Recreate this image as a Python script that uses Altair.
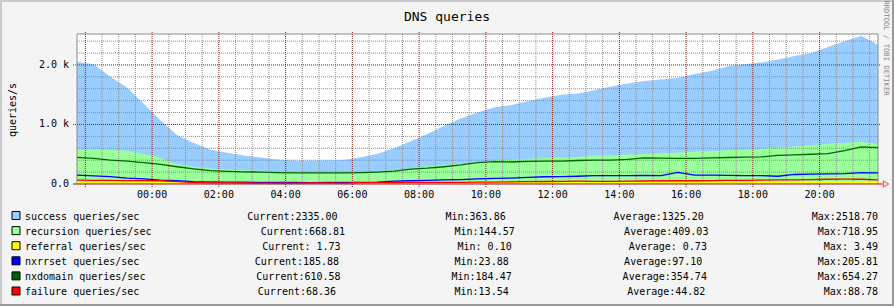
import altair as alt
import pandas as pd

# ---------------- data ----------------
START_H = -2.25   # 21:45 of the previous day, in hours from midnight
STEP_H = 0.5      # 30-minute samples

success = [2055, 2010, 1800, 1620, 1350, 1070, 820, 690, 580, 525,
           480, 445, 410, 395, 395, 400, 405, 450, 510, 600,
           720, 840, 980, 1100, 1200, 1290, 1325, 1390, 1450, 1500,
           1520, 1575, 1640, 1690, 1730, 1755, 1780, 1850, 1900, 1980,
           2010, 2040, 2090, 2150, 2200, 2300, 2400, 2490, 2340]
recursion = [583, 580, 575, 560, 510, 440, 330, 290, 262, 245,
             232, 222, 212, 200, 195, 195, 195, 200, 212, 235,
             265, 300, 325, 345, 370, 395, 410, 425, 435, 445,
             455, 480, 485, 495, 505, 515, 530, 545, 555, 565,
             575, 590, 610, 630, 650, 670, 690, 710, 670]
referral = [1.2, 1.1, 1.0, 0.9, 0.8, 0.7, 0.5, 0.4, 0.3, 0.2,
            0.2, 0.1, 0.1, 0.1, 0.2, 0.2, 0.3, 0.4, 0.5, 0.6,
            0.7, 0.8, 0.8, 0.9, 0.9, 1.0, 1.0, 1.1, 1.1, 1.2,
            1.2, 1.3, 1.3, 1.4, 1.4, 1.5, 1.5, 1.6, 1.6, 1.7,
            1.7, 1.8, 1.9, 2.0, 2.1, 2.3, 2.5, 1.9, 1.7]
nxrrset = [150, 135, 125, 100, 85, 65, 55, 40, 35, 32,
           30, 28, 26, 25, 24, 25, 26, 28, 30, 48,
           55, 62, 68, 75, 85, 95, 98, 110, 122, 125,
           130, 140, 142, 140, 145, 140, 195, 150, 150, 145,
           140, 140, 130, 160, 165, 170, 175, 190, 186]
nxdomain = [448, 430, 400, 385, 360, 330, 290, 255, 225, 212,
            205, 200, 192, 186, 186, 186, 186, 190, 200, 215,
            250, 265, 290, 320, 360, 375, 370, 380, 385, 385,
            395, 400, 400, 415, 440, 435, 430, 430, 440, 445,
            450, 455, 480, 490, 500, 510, 560, 625, 610]
failure = [65, 62, 60, 58, 56, 55, 40, 25, 20, 18,
           17, 15, 14, 16, 20, 18, 15, 22, 24, 25,
           26, 26, 28, 28, 30, 32, 35, 40, 42, 45,
           48, 45, 45, 48, 50, 55, 55, 55, 58, 60,
           62, 65, 68, 70, 72, 80, 82, 80, 68]

names = ["success queries/sec", "recursion queries/sec", "referral queries/sec",
         "nxrrset queries/sec", "nxdomain queries/sec", "failure queries/sec"]
current = [2335.00, 668.81, 1.73, 185.88, 610.58, 68.36]
minimum = [363.86, 144.57, 0.10, 23.88, 184.47, 13.54]
average = [1325.20, 409.03, 0.73, 97.10, 354.74, 44.82]
maximum = [2518.70, 718.95, 3.49, 205.81, 654.27, 88.78]
colors = ["#99CCFF", "#99FF99", "#FFFF00", "#0000FF", "#006600", "#FF0000"]

x_label_hours = [0, 2, 4, 6, 8, 10, 12, 14, 16, 18, 20]
x_label_text = ["00:00", "02:00", "04:00", "06:00", "08:00", "10:00",
                "12:00", "14:00", "16:00", "18:00", "20:00"]
y_label_values = [0, 1000, 2000]
y_label_text = ["0.0", "1.0 k", "2.0 k"]

# ---------------- layout ----------------
W, H = 801, 150
PAD_L, PAD_T = 77, 34
TOTAL_W, TOTAL_H = 894, 306
XDOM = [-2.25, 21.75]
YDOM = [0, 2520]
FONT = "DejaVu Sans Mono"
MINOR = "#8C8C8C"
MAJOR = "#821E1E"
INTERP = "linear"

hours = [START_H + STEP_H * i for i in range(len(success))]
df = pd.DataFrame(dict(h=hours, success=success, recursion=recursion,
                       referral=referral, nxrrset=nxrrset,
                       nxdomain=nxdomain, failure=failure))

xs = alt.Scale(domain=XDOM, nice=False, zero=False)
ys = alt.Scale(domain=YDOM, nice=False, zero=True)

base = alt.Chart(df)
X = alt.X("h:Q", scale=xs, axis=None)

a_success = base.mark_area(interpolate=INTERP, color=colors[0]).encode(
    x=X, y=alt.Y("success:Q", scale=ys, axis=None))
a_recursion = base.mark_area(interpolate=INTERP, color=colors[1]).encode(
    x=X, y=alt.Y("recursion:Q", scale=ys, axis=None))

# grid
minor_x = [k / 2 for k in range(-3, 44) if k % 4 != 0]
major_x = list(range(-2, 21, 2))
minor_y = [v for v in range(200, 2520, 200) if v % 1000 != 0]
major_y = [1000, 2000]

g_vminor = alt.Chart(pd.DataFrame({"gx": minor_x})).mark_rule(
    color=MINOR, strokeDash=[1, 1], strokeWidth=1).encode(
    x=alt.X("gx:Q", scale=xs, axis=None), y=alt.value(0), y2=alt.value(H))
g_hminor = alt.Chart(pd.DataFrame({"gy": minor_y})).mark_rule(
    color=MINOR, strokeDash=[1, 1], strokeWidth=1).encode(
    y=alt.Y("gy:Q", scale=ys, axis=None), x=alt.value(0), x2=alt.value(W))
g_vmajor = alt.Chart(pd.DataFrame({"gx": major_x})).mark_rule(
    color=MAJOR, strokeDash=[1, 1], strokeWidth=1).encode(
    x=alt.X("gx:Q", scale=xs, axis=None), y=alt.value(-2), y2=alt.value(H + 3))
g_hmajor = alt.Chart(pd.DataFrame({"gy": major_y})).mark_rule(
    color=MAJOR, strokeDash=[1, 1], strokeWidth=1).encode(
    y=alt.Y("gy:Q", scale=ys, axis=None), x=alt.value(-4), x2=alt.value(W + 3))

one = alt.Chart(pd.DataFrame({"a": [0]}))
frame_top = one.mark_rule(color="#8C8C8C").encode(x=alt.value(0), x2=alt.value(W), y=alt.value(0))
frame_left = one.mark_rule(color="#8C8C8C").encode(x=alt.value(0), y=alt.value(0), y2=alt.value(H))
frame_right = one.mark_rule(color="#8C8C8C").encode(x=alt.value(W), y=alt.value(0), y2=alt.value(H))

# lines
l_referral = base.mark_line(interpolate=INTERP, color=colors[2], strokeWidth=2, yOffset=-1.5).encode(
    x=X, y=alt.Y("referral:Q", scale=ys, axis=None))
l_nxrrset = base.mark_line(interpolate=INTERP, color=colors[3], strokeWidth=1.3).encode(
    x=X, y=alt.Y("nxrrset:Q", scale=ys, axis=None))
l_nxdomain = base.mark_line(interpolate=INTERP, color=colors[4], strokeWidth=1.3).encode(
    x=X, y=alt.Y("nxdomain:Q", scale=ys, axis=None))
l_failure = base.mark_line(interpolate=INTERP, color=colors[5], strokeWidth=1.3).encode(
    x=X, y=alt.Y("failure:Q", scale=ys, axis=None))

axis_line = one.mark_rule(color=MAJOR, strokeWidth=1).encode(
    x=alt.value(-4), x2=alt.value(W), y=alt.value(H))
arrow_line = one.mark_rule(color="#FF0000", strokeWidth=1).encode(
    x=alt.value(W), x2=alt.value(W + 5), y=alt.value(H))
arrow_head = one.mark_point(shape="triangle-right", size=40, filled=False,
                            color="#FF0000", strokeWidth=1).encode(
    x=alt.value(W + 8), y=alt.value(H))

# axis labels (placed through the scales)
x_lab = alt.Chart(pd.DataFrame({"h": x_label_hours, "t": x_label_text})).mark_text(
    font=FONT, fontSize=10, color="black", align="center", baseline="middle").encode(
    x=alt.X("h:Q", scale=xs, axis=None), y=alt.value(H + 11), text="t:N")
y_lab = alt.Chart(pd.DataFrame({"v": y_label_values, "t": y_label_text})).mark_text(
    font=FONT, fontSize=10, color="black", align="right", baseline="middle").encode(
    y=alt.Y("v:Q", scale=ys, axis=None), x=alt.value(-8), text="t:N")

# image border (3D frame)
def rect(x1, x2, y1, y2, c):
    return one.mark_rect(color=c).encode(
        x=alt.value(x1 - PAD_L), x2=alt.value(x2 - PAD_L),
        y=alt.value(y1 - PAD_T), y2=alt.value(y2 - PAD_T))

border = [rect(0, TOTAL_W, 0, 2, "#CBCBCB"), rect(0, 2, 0, TOTAL_H, "#CBCBCB"),
          rect(0, TOTAL_W, TOTAL_H - 2, TOTAL_H, "#999999"),
          rect(TOTAL_W - 2, TOTAL_W, 0, TOTAL_H, "#999999")]

# texts
title = one.mark_text(text="DNS queries", font=FONT, fontSize=13, color="black",
                      align="center", baseline="middle").encode(
    x=alt.value(447 - PAD_L), y=alt.value(17 - PAD_T))
ylabel = one.mark_text(text="queries/s", font=FONT, fontSize=10, color="black",
                       align="center", baseline="middle", angle=270).encode(
    x=alt.value(13 - PAD_L), y=alt.value(110 - PAD_T))
watermark = one.mark_text(text="RRDTOOL / TOBI OETIKER", font=FONT, fontSize=7.2,
                          color="#8A8A8A", align="center", baseline="middle",
                          angle=90).encode(
    x=alt.value(886 - PAD_L), y=alt.value(48 - PAD_T))

# legend (justified rows like rrdtool's \j)
CW = 6.02
L0, R0 = 25, 878
ROW0, ROWSTEP = 216.5, 15.1
leg_rows, sw_rows = [], []
for k in range(len(names)):
    items = [names[k], "Current:%5.2f" % current[k], "Min:%5.2f" % minimum[k],
             "Average:%5.2f" % average[k], "Max:%5.2f" % maximum[k]]
    widths = [len(s) * CW for s in items]
    gap = (R0 - L0 - sum(widths)) / 4
    xpos = L0
    cy = ROW0 + ROWSTEP * k
    for s, w in zip(items, widths):
        leg_rows.append(dict(t=s, px=xpos - PAD_L, py=cy - PAD_T))
        xpos += w + gap
    sw_rows.append(dict(name=names[k], c=colors[k], x1=12 - PAD_L, x2=20 - PAD_L,
                        y1=cy - 5 - PAD_T, y2=cy + 3 - PAD_T))

leg_text = alt.Chart(pd.DataFrame(leg_rows)).mark_text(
    font=FONT, fontSize=10, color="black", align="left", baseline="middle").encode(
    x=alt.X("px:Q", scale=None, axis=None), y=alt.Y("py:Q", scale=None, axis=None), text="t:N")
leg_sw = alt.Chart(pd.DataFrame(sw_rows)).mark_rect(stroke="black", strokeWidth=1).encode(
    x=alt.X("x1:Q", scale=None, axis=None), x2="x2:Q",
    y=alt.Y("y1:Q", scale=None, axis=None), y2="y2:Q",
    color=alt.Color("c:N", scale=None, legend=None))

chart = alt.layer(
    *border,
    a_success, a_recursion,
    g_vminor, g_hminor, g_vmajor, g_hmajor,
    frame_top, frame_left, frame_right,
    l_referral, l_nxrrset, l_nxdomain, l_failure,
    axis_line, arrow_line, arrow_head,
    x_lab, y_lab,
    title, ylabel, watermark, leg_sw, leg_text,
).properties(
    width=W, height=H,
    padding={"left": PAD_L, "top": PAD_T, "right": TOTAL_W - PAD_L - W,
             "bottom": TOTAL_H - PAD_T - H},
    autosize=alt.AutoSizeParams(type="none"),
).configure(background="#F4F4F4").configure_view(fill="white", stroke=None)

chart.save("out.html", embed_options={"renderer": "svg", "actions": False})
